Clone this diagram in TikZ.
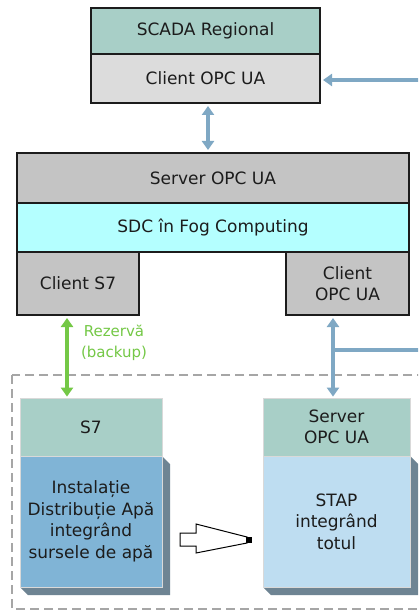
\documentclass[tikz,border=0pt]{standalone}
\usepackage{fontspec}
\setmainfont{DejaVu Sans}
\usetikzlibrary{arrows.meta}

\definecolor{tealbox}{HTML}{A8CFC7}
\definecolor{paleclient}{HTML}{DCDCDC}
\definecolor{midgrey}{HTML}{C4C4C4}
\definecolor{fogcyan}{HTML}{B4FFFF}
\definecolor{linkblue}{HTML}{7FA8C4}
\definecolor{backupgreen}{HTML}{74C846}
\definecolor{instblue}{HTML}{80B4D6}
\definecolor{stapblue}{HTML}{BEDDF1}
\definecolor{shadowgrey}{HTML}{6E8493}
\definecolor{inkdark}{HTML}{1C1C1C}

\tikzset{
  blk/.style={draw=inkdark, line width=2pt, inner sep=0pt, align=center,
    text=inkdark, font=\fontsize{17}{21.5}\selectfont},
  soft/.style={draw=white!85!black, line width=0.8pt, inner sep=0pt, align=center,
    text=inkdark, font=\fontsize{17}{21.5}\selectfont},
  link/.style={draw=linkblue, line width=4pt},
  backup/.style={draw=backupgreen, line width=4pt},
  tipL/.tip={Triangle[width=12pt,length=9pt]},
  fence/.style={draw=black!35, line width=1.3pt, dash pattern=on 9pt off 5pt}
}

\begin{document}
\begin{tikzpicture}[x=1pt,y=-1pt]
\useasboundingbox (0,0) rectangle (418,612);
\fill[white] (0,0) rectangle (418,612);
\begin{scope}
\clip (0,0) rectangle (418,612);

% field level enclosure
\draw[fence] (12,375) rectangle (440,609);

% extruded sides of the two field blocks
\fill[shadowgrey] (162,456) -- (170,464) -- (170,595) -- (28,595) -- (20,587) -- (162,587) -- cycle;
\fill[shadowgrey] (410,456) -- (418,464) -- (418,595) -- (271,595) -- (263,587) -- (410,587) -- cycle;

% regional SCADA
\node[blk, fill=tealbox, minimum width=229, minimum height=46] (scada) at (205.5,31) {SCADA Regional};
\node[blk, fill=paleclient, minimum width=229, minimum height=49] (clientTop) at (205.5,78.5) {Client OPC UA};

% fog computing controller
\node[blk, fill=midgrey, minimum width=392, minimum height=50] (server) at (213,178) {Server OPC UA};
\node[blk, fill=fogcyan, minimum width=392, minimum height=49] (sdc) at (213,227.5) {SDC în Fog Computing};
\node[blk, fill=midgrey, minimum width=122, minimum height=63] (clientS7) at (78,283.5) {Client S7};
\node[blk, fill=midgrey, minimum width=123, minimum height=63] (clientOPC) at (347.5,283.5) {Client\\OPC UA};

% field blocks
\node[soft, fill=tealbox, minimum width=142, minimum height=58] (s7) at (91,427) {S7};
\node[soft, fill=instblue, minimum width=142, minimum height=131] (inst) at (91,521.5)
  {Instalație\\Distribuție Apă\\integrând\\sursele de apă};
\node[soft, fill=tealbox, minimum width=147, minimum height=58] (srvBot) at (336.5,427) {Server\\OPC UA};
\node[soft, fill=stapblue, minimum width=147, minimum height=131] (stap) at (336.5,521.5)
  {STAP\\integrând\\totul};

% connectors
\coordinate (vx) at (208,0);
\coordinate (gx) at (67,0);
\coordinate (bx) at (333,0);
\coordinate (feedA) at (430,80);
\coordinate (tap) at (333,350);
\coordinate (feedB) at (430,350);

\draw[link, -{tipL}, shorten >=2pt] (feedA) -- (feedA -| clientTop.east);
\draw[link, {tipL}-{tipL}, shorten >=2pt, shorten <=2pt] (clientTop.south -| vx) -- (server.north -| vx);
\draw[backup, {tipL}-{tipL}, shorten >=1pt, shorten <=2pt] (clientS7.south -| gx) -- (s7.north -| gx);
\draw[link, {tipL}-{tipL}, shorten >=1pt, shorten <=2pt] (clientOPC.south -| bx) -- (srvBot.north -| bx);
\draw[link] (tap) -- (feedB);

\node[text=backupgreen, align=center, font=\fontsize{15}{21}\selectfont] (rez) at (114,343) {Rezervă\\(backup)};

% hollow transfer arrow between the two blocks
\draw[black, line width=1pt, fill=white]
  (180,533) -- (196,533) -- (196,524) -- (247,537) -- (247,543) -- (196,553) -- (196,546) -- (180,546) -- cycle;
\fill[black] (246,537) rectangle (252,543);

\end{scope}
\end{tikzpicture}
\end{document}
